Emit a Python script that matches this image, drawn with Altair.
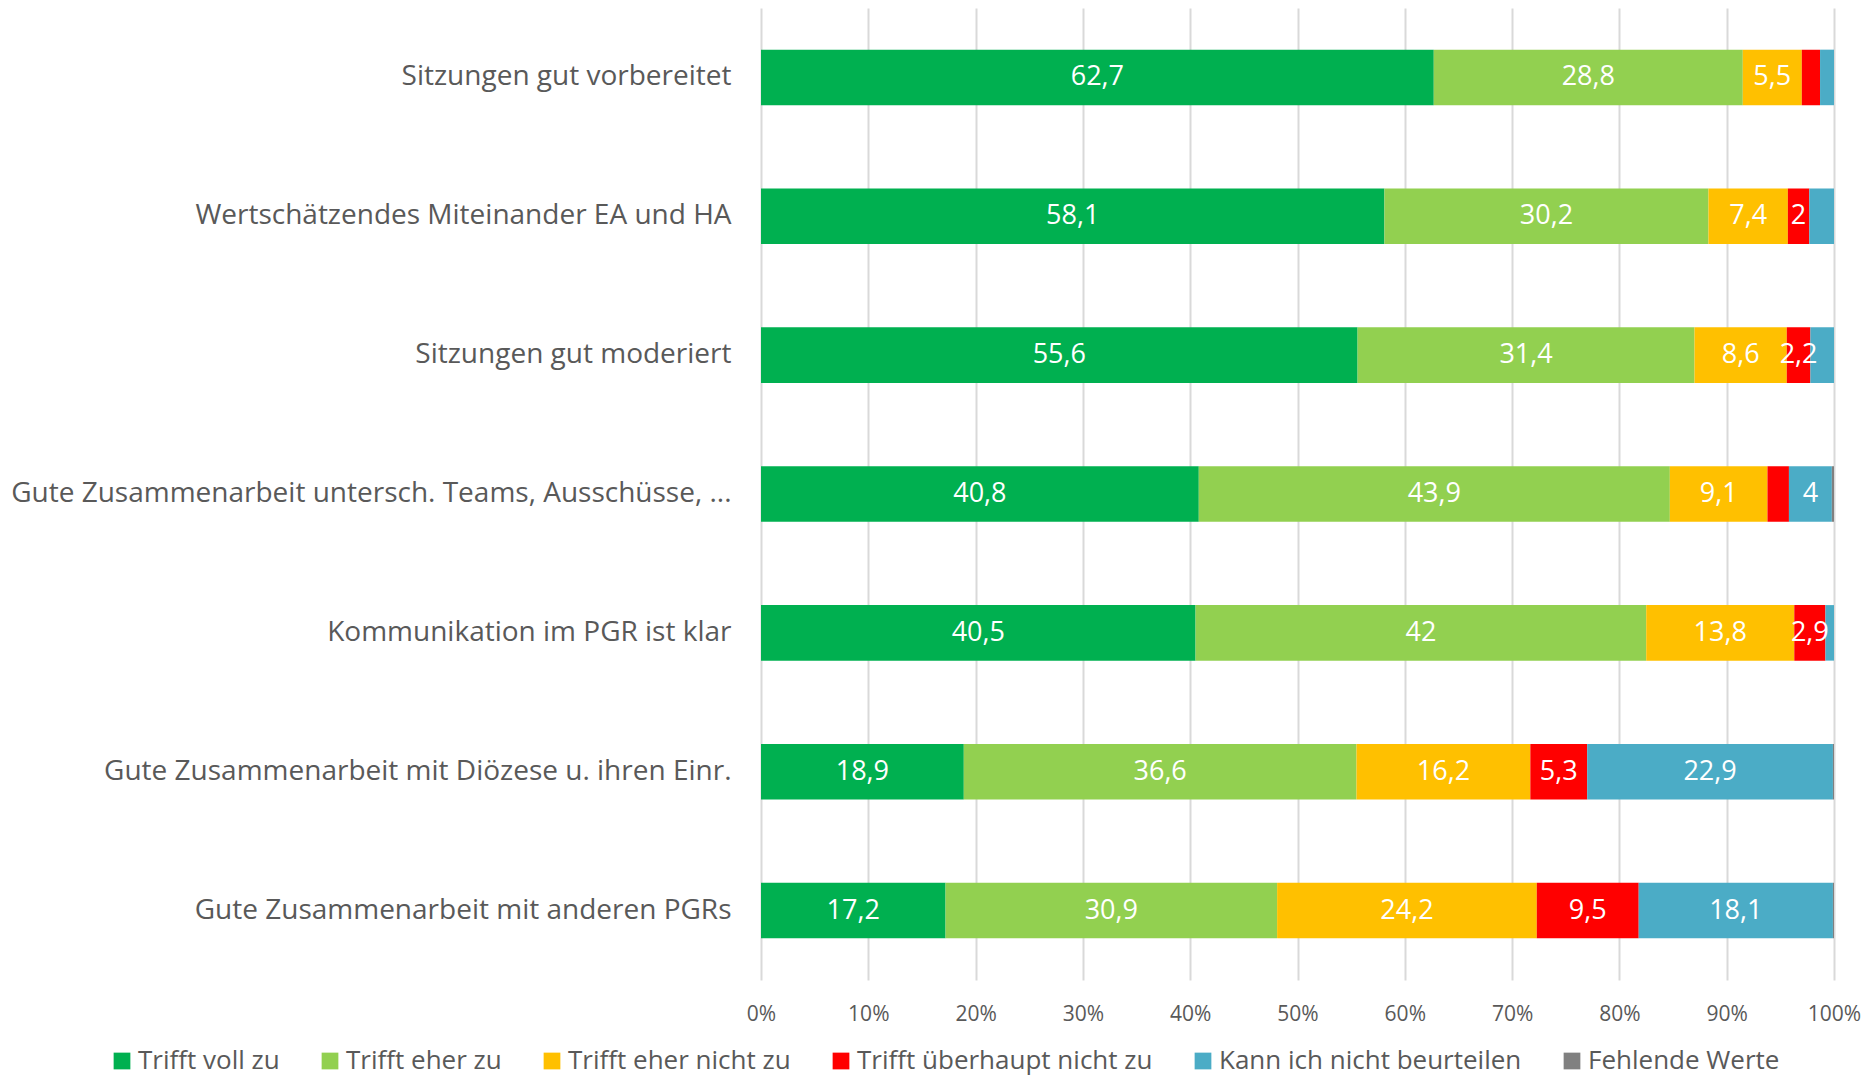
import altair as alt
import pandas as pd

categories = [
    "Sitzungen gut vorbereitet",
    "Wertschätzendes Miteinander EA und HA",
    "Sitzungen gut moderiert",
    "Gute Zusammenarbeit untersch. Teams, Ausschüsse, ...",
    "Kommunikation im PGR ist klar",
    "Gute Zusammenarbeit mit Diözese u. ihren Einr.",
    "Gute Zusammenarbeit mit anderen PGRs",
]
series = [
    "Trifft voll zu",
    "Trifft eher zu",
    "Trifft eher nicht zu",
    "Trifft überhaupt nicht zu",
    "Kann ich nicht beurteilen",
    "Fehlende Werte",
]
colors = ["#00B050", "#92D050", "#FFC000", "#FF0000", "#4BACC6", "#808080"]

voll = [62.7, 58.1, 55.6, 40.8, 40.5, 18.9, 17.2]
eher = [28.8, 30.2, 31.4, 43.9, 42.0, 36.6, 30.9]
eher_nicht = [5.5, 7.4, 8.6, 9.1, 13.8, 16.2, 24.2]
ueberhaupt_nicht = [1.7, 2.0, 2.2, 2.0, 2.9, 5.3, 9.5]
kann_nicht = [1.3, 2.3, 2.2, 4.0, 0.8, 22.9, 18.1]
fehlend = [0.0, 0.0, 0.0, 0.2, 0.0, 0.1, 0.1]

# labels as printed in the chart ("" = no label shown)
voll_lbl = ["62,7", "58,1", "55,6", "40,8", "40,5", "18,9", "17,2"]
eher_lbl = ["28,8", "30,2", "31,4", "43,9", "42", "36,6", "30,9"]
eher_nicht_lbl = ["5,5", "7,4", "8,6", "9,1", "13,8", "16,2", "24,2"]
ueberhaupt_nicht_lbl = ["", "2", "2,2", "", "2,9", "5,3", "9,5"]
kann_nicht_lbl = ["", "", "", "4", "", "22,9", "18,1"]
fehlend_lbl = ["", "", "", "", "", "", ""]

values = [voll, eher, eher_nicht, ueberhaupt_nicht, kann_nicht, fehlend]
labels = [voll_lbl, eher_lbl, eher_nicht_lbl, ueberhaupt_nicht_lbl, kann_nicht_lbl, fehlend_lbl]

rows = []
for si, s in enumerate(series):
    for ci, c in enumerate(categories):
        rows.append({"cat": c, "series": s, "order": si,
                     "value": values[si][ci], "label": labels[si][ci]})
df = pd.DataFrame(rows)

FONT = "Open Sans"
GREY = "#595959"

base = alt.Chart(df).transform_stack(
    stack="value", groupby=["cat"], as_=["x0", "x1"],
    sort=[alt.SortField("order", order="ascending")]
).transform_calculate(mid="(datum.x0 + datum.x1) / 2")

y_enc = alt.Y("cat:N", sort=categories, title=None,
              scale=alt.Scale(paddingInner=0.6, paddingOuter=0.3),
              axis=alt.Axis(labelFont=FONT, labelFontSize=28, labelColor=GREY,
                            labelPadding=30, labelLimit=900, domain=False, ticks=False))

bars = base.mark_bar().encode(
    x=alt.X("x0:Q", title=None,
            scale=alt.Scale(domain=[0, 100], nice=False),
            axis=alt.Axis(values=list(range(0, 101, 10)), labelExpr="datum.value + '%'",
                          labelFont=FONT, labelFontSize=21, labelColor=GREY,
                          labelFlush=False, labelOverlap=False,
                          labelPadding=23, domain=False, ticks=False,
                          grid=True, gridColor="#D9D9D9", gridWidth=2)),
    x2="x1:Q",
    y=y_enc,
    color=alt.Color("series:N", sort=series,
                    scale=alt.Scale(domain=series, range=colors),
                    legend=alt.Legend(title=None, orient="none", direction="horizontal",
                                      columns=6, legendX=-652, legendY=1040,
                                      labelFont=FONT, labelFontSize=26, labelColor=GREY,
                                      labelLimit=600,
                                      symbolType="square", symbolSize=280,
                                      symbolStrokeWidth=0, labelOffset=3,
                                      columnPadding=37)),
)

text = base.mark_text(font=FONT, fontSize=27, color="white").encode(
    x=alt.X("mid:Q"),
    y=alt.Y("cat:N", sort=categories),
    text="label:N",
)

chart = (bars + text).properties(
    width=1073, height=972,
    autosize=alt.AutoSizeParams(type="none"),
    padding={"left": 753, "top": 0, "right": 30, "bottom": 100},
).configure_view(stroke=None)

chart.save("out.html", embed_options={"renderer": "svg", "actions": False})
